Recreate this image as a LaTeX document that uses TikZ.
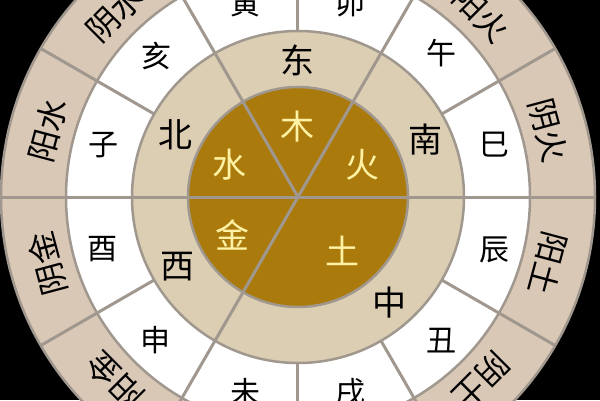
\documentclass[tikz,border=0pt]{standalone}
\usepackage{fontspec}
\setmainfont{Noto Sans CJK SC}
\usetikzlibrary{calc}
\definecolor{ringbeige}{RGB}{218,200,183}
\definecolor{ringtan}{RGB}{220,206,178}
\definecolor{ringgold}{RGB}{170,123,12}
\definecolor{dividergrey}{RGB}{160,152,142}
\definecolor{elementyellow}{RGB}{255,242,165}
\tikzset{
	ring/.style={fill=#1, draw=dividergrey, line width=2.5pt},
	divider/.style={draw=dividergrey, line width=3pt},
	element/.style={text=elementyellow, font=\fontsize{34}{34}\selectfont, inner sep=0pt},
	direction/.style={text=black, font=\fontsize{34}{34}\selectfont, inner sep=0pt},
	branch/.style={text=black, font=\fontsize{30}{30}\selectfont, inner sep=0pt},
	yinyang/.style={text=black, font=\fontsize{32}{32}\selectfont, inner sep=0pt, rotate=#1},
}
\begin{document}
\begin{tikzpicture}[x=1pt, y=1pt]

\useasboundingbox (-298,-203) rectangle (302,197);
\clip (-298,-203) rectangle (302,197);
\fill[black] (-298,-203) rectangle (302,197);

% rings

\draw[ring=ringbeige] (0,0) circle (297);
\draw[ring=white] (0,0) circle (232);
\draw[ring=ringtan] (0,0) circle (166);
\draw[ring=ringgold] (0,0) circle (110);

% dividers

\draw[divider] (180:297) -- (0:297);
\draw[divider] (0,0) -- (60:297);
\draw[divider] (0,0) -- (120:297);
\draw[divider] (0,0) -- (240:297);

\draw[divider] (30:166) -- (30:297);
\draw[divider] (90:166) -- (90:297);
\draw[divider] (150:166) -- (150:297);
\draw[divider] (210:166) -- (210:297);
\draw[divider] (270:166) -- (270:297);
\draw[divider] (300:166) -- (300:297);
\draw[divider] (330:166) -- (330:297);

% elements

\node[element] (mu) at (90:70) {木};
\node[element] (huo) at (27:72) {火};
\node[element] (tu) at (310:70) {土};
\node[element] (jin) at (210:76) {金};
\node[element] (shui) at (155:76) {水};

% directions

\node[direction] (dong) at (90:137) {东};
\node[direction] (nan) at (24:140) {南};
\node[direction] (zhong) at (311:140) {中};
\node[direction] (xi) at (210:139) {西};
\node[direction] (bei) at (153:137) {北};

% branches

\node[branch] (yin) at (105:201) {寅};
\node[branch] (mao) at (75:201) {卯};
\node[branch] (wu) at (45:203) {午};
\node[branch] (si) at (15:203) {巳};
\node[branch] (chen) at (345:203) {辰};
\node[branch] (chou) at (315:203) {丑};
\node[branch] (xu) at (285:202) {戌};
\node[branch] (wei) at (255:202) {未};
\node[branch] (shen) at (225:202) {申};
\node[branch] (you) at (195:202) {酉};
\node[branch] (zi) at (165:201) {子};
\node[branch] (hai) at (135:200) {亥};

% yin and yang

\node[yinyang=75] (yang-shui) at (165:259) {阳水};
\node[yinyang=45] (yin-shui) at (135:259) {阴水};
\node[yinyang=-45] (yang-huo) at (45:259) {阳火};
\node[yinyang=-75] (yin-huo) at (15:259) {阴火};
\node[yinyang=-105] (yang-tu) at (345:259) {阳土};
\node[yinyang=-135] (yin-tu) at (315:259) {阴土};
\node[yinyang=105] (yin-jin) at (195:259) {阴金};
\node[yinyang=135] (yang-jin) at (225:259) {阳金};

\end{tikzpicture}
\end{document}
